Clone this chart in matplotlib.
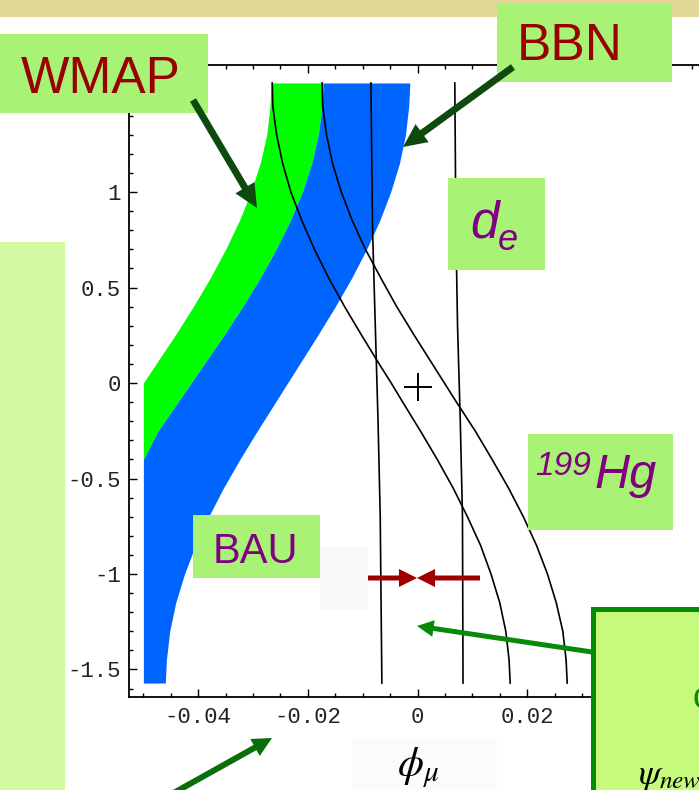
import matplotlib
matplotlib.use('Agg')
import matplotlib.pyplot as plt
from matplotlib.patches import Rectangle, FancyArrowPatch
from matplotlib.ticker import MultipleLocator, FuncFormatter

plt.rcParams['font.family'] = ['Liberation Sans', 'DejaVu Sans']
plt.rcParams['mathtext.fontset'] = 'stix'

# --- data (phi_mu on x, second phase on y) ---
phase = [1.571, 1.45, 1.3, 1.15, 1.0, 0.85, 0.7, 0.55, 0.4, 0.25, 0.1, 0.0,
         -0.1, -0.25, -0.4, -0.55, -0.7, -0.85, -1.0, -1.15, -1.3, -1.45, -1.571]
wmap_left = [-0.0267, -0.0269, -0.0275, -0.0287, -0.0304, -0.0325, -0.0350, -0.0378,
             -0.0409, -0.0442, -0.0477, -0.05, -0.05, -0.05, -0.05, -0.05, -0.05,
             -0.05, -0.05, -0.05, -0.05, -0.05, -0.05]
wmap_right = [-0.0172, -0.0174, -0.0181, -0.0193, -0.0210, -0.0232, -0.0258, -0.0287,
              -0.0319, -0.0353, -0.0389, -0.0413, -0.0437, -0.0473, -0.05, -0.05, -0.05,
              -0.05, -0.05, -0.05, -0.05, -0.05, -0.05]
bbn_right = [-0.0014, -0.0016, -0.0022, -0.0033, -0.0049, -0.0069, -0.0093, -0.0120,
             -0.0150, -0.0182, -0.0215, -0.0237, -0.0259, -0.0292, -0.0324, -0.0354,
             -0.0381, -0.0405, -0.0425, -0.0441, -0.0452, -0.0458, -0.0460]
hg_lo = [-0.0265, -0.0264, -0.0257, -0.0246, -0.0231, -0.0211, -0.0188, -0.0162,
         -0.0133, -0.0102, -0.0070, -0.0048, -0.0027, 0.0005, 0.0036, 0.0065, 0.0091,
         0.0115, 0.0134, 0.0150, 0.0161, 0.0167, 0.0169]
hg_hi = [-0.0174, -0.0173, -0.0166, -0.0155, -0.0139, -0.0119, -0.0095, -0.0067,
         -0.0038, -0.0006, 0.0027, 0.0049, 0.0071, 0.0105, 0.0136, 0.0166, 0.0193,
         0.0217, 0.0237, 0.0253, 0.0265, 0.0271, 0.0273]
de_phase = [1.571, 0.8, 0.3, -0.2, -0.7, -1.571]
de_lo = [-0.0085, -0.0082, -0.0077, -0.0072, -0.0068, -0.0065]
de_hi = [0.0068, 0.0070, 0.0073, 0.0078, 0.0082, 0.0083]
cross_x = [0.0]
cross_y = [-0.02]

W, H = 699, 790
fig = plt.figure(figsize=(W / 100, H / 100), dpi=100)
fig.patch.set_facecolor('white')

def fx(x):
    return x / W

def fy(y):
    return 1 - y / H

# axes placed in pixels: left spine x=129, bottom y=697, top y=65
xmin, xmax = -0.05262, 0.065
ax = fig.add_axes([fx(129), fy(697), (xmax - xmin) * 5483 / W, (697 - 65) / H])
ax.set_xlim(xmin, xmax)
ax.set_ylim(-1.644, 1.665)

ax.fill_betweenx(phase, wmap_left, wmap_right, color='#00FF00', lw=0)
ax.fill_betweenx(phase, wmap_right, bbn_right, color='#0064FF', lw=0)
for xs in (hg_lo, hg_hi):
    ax.plot(xs, phase, color='black', lw=1.2)
for xs in (de_lo, de_hi):
    ax.plot(xs, de_phase, color='black', lw=1.2)
ax.plot(cross_x, cross_y, marker='+', ms=20, mew=1.4, color='black', ls='none')

def tick_fmt(v, p):
    # the 1.5 label sits under the WMAP box anyway
    if abs(v - 1.5) < 1e-9:
        return ''
    return '%g' % (round(v, 4) + 0.0)

ax.xaxis.set_major_locator(MultipleLocator(0.02))
ax.xaxis.set_minor_locator(MultipleLocator(0.005))
ax.yaxis.set_major_locator(MultipleLocator(0.5))
ax.yaxis.set_minor_locator(MultipleLocator(0.1))
ax.xaxis.set_major_formatter(FuncFormatter(tick_fmt))
ax.yaxis.set_major_formatter(FuncFormatter(tick_fmt))
ax.tick_params(which='both', direction='in', top=True, right=True, width=1,
               labelfontfamily='Liberation Mono', labelsize=16, labelcolor='#222222')
ax.tick_params(which='major', length=6)
ax.tick_params(which='minor', length=3)
ax.tick_params(axis='x', pad=7)
ax.tick_params(axis='y', pad=6)
for s in ax.spines.values():
    s.set_linewidth(1.3)

# --- slide overlay ---
def box(x0, y0, x1, y1, fc, z=5, ec='none', lw=0):
    fig.add_artist(Rectangle((fx(x0), fy(y1)), (x1 - x0) / W, (y1 - y0) / H,
                             transform=fig.transFigure, fc=fc, ec=ec, lw=lw, zorder=z))

def arrow(x0, y0, x1, y1, color, tail, hw, hl):
    fig.add_artist(FancyArrowPatch((fx(x0), fy(y0)), (fx(x1), fy(y1)),
                                   transform=fig.transFigure, color=color, lw=0,
                                   arrowstyle='simple,head_length=%g,head_width=%g,tail_width=%g' % (hl, hw, tail),
                                   shrinkA=0, shrinkB=0, zorder=7))

box(0, 0, W, 17, '#E2D796')
box(0, 242, 65, H, '#D3F8A2')
box(320, 547, 368, 610, '#F8F8F8', z=1)
box(352, 738, 497, H, '#FBFBFB', z=1)
box(0, 34, 208, 113, '#A8F275')
box(497, 3, 672, 82, '#A8F275')
box(448, 178, 545, 270, '#A8F275')
box(528, 434, 673, 530, '#A8F275')
box(193, 515, 320, 578, '#A8F275')
box(592.5, 609.5, W + 20, H + 20, '#C5FA7D', ec='#078A07', lw=3.6)

red = '#990000'
purple = '#800080'
fig.text(fx(101), fy(93), 'WMAP', fontsize=37, color=red, ha='center', va='baseline', zorder=6)
fig.text(fx(570), fy(60), 'BBN', fontsize=37, color=red, ha='center', va='baseline', zorder=6)
fig.text(fx(470), fy(237), 'd', fontsize=37, color=purple, style='italic', ha='left', va='baseline', zorder=6)
fig.text(fx(498), fy(250), 'e', fontsize=26, color=purple, style='italic', ha='left', va='baseline', zorder=6)
fig.text(fx(535), fy(475), '199', fontsize=24, color=purple, style='italic', ha='left', va='baseline', zorder=6)
fig.text(fx(594), fy(488), 'Hg', fontsize=35, color=purple, style='italic', ha='left', va='baseline', zorder=6)
fig.text(fx(255), fy(563), 'BAU', fontsize=30, color=purple, ha='center', va='baseline', zorder=6)
fig.text(fx(418), fy(768), r'$\phi_{\mu}$', fontsize=30, color='black', ha='center', va='center', zorder=6)
fig.text(fx(638), fy(784), r'$\psi_{new}$', fontsize=26, color='black', ha='left', va='baseline', zorder=6)
fig.text(fx(692), fy(708), 'c', fontsize=26, color='#078A07', ha='left', va='baseline', zorder=6)

arrow(193, 100, 257, 208, '#0E4A0E', 5, 16, 17)
arrow(513, 67, 403, 147, '#0E4A0E', 5, 16, 17)
arrow(592, 652, 417, 626, '#078A07', 3.6, 12, 12)
arrow(170, 795, 272, 738, '#0B6E0B', 4.3, 14, 14)
arrow(368, 578, 417, 578, '#A00000', 3.6, 13, 13)
arrow(480, 578, 417, 578, '#A00000', 3.6, 13, 13)

fig.savefig('out.png', dpi=100)
